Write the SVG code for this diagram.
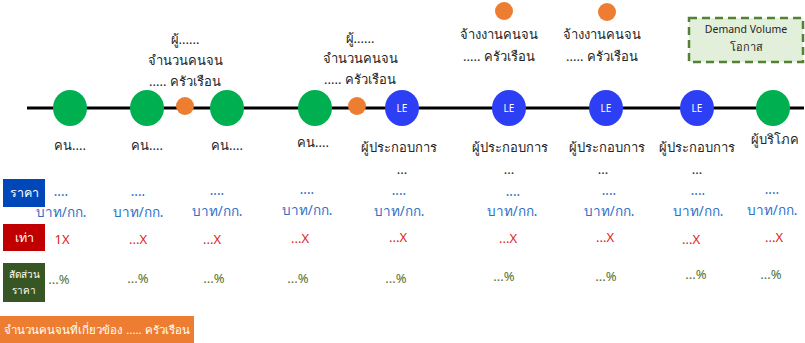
<svg xmlns="http://www.w3.org/2000/svg" width="805" height="343" viewBox="0 0 805 343">
<style>
text{font-family:"Noto Sans","DejaVu Sans",sans-serif;text-anchor:middle}
.t{font-size:13px;fill:#262626}
.g{fill:#00B050}
.b{fill:#2C3FF5}
.o{fill:#ED7D31}
.le{font-size:10px;fill:#fff}
.p{font-size:13.5px;fill:#2E6FC6}
.x{font-size:13px;fill:#E02424}
.pc{font-size:13px;fill:#4F7233}
.lb{fill:#fff;font-size:12.5px}
</style>
<rect width="805" height="343" fill="#fff"/>
<g id="connectors">
<line x1="27" y1="108" x2="804" y2="108" stroke="#000" stroke-width="3"/>
</g>
<g id="demand">
<rect x="689" y="18" width="114" height="44" fill="#E2EFDA" stroke="#548235" stroke-width="2.5" stroke-dasharray="8,5"/>
<text x="746" y="33" style="font-size:10.5px;fill:#262626">Demand Volume</text>
<text x="746" y="51" style="font-size:11px;fill:#262626">โอกาส</text>
</g>
<g id="n1"><ellipse cx="70" cy="108" rx="17" ry="18" class="g"/><text class="t" x="70" y="150">คน....</text></g>
<g id="n2"><ellipse cx="147" cy="108" rx="17" ry="18" class="g"/><text class="t" x="147" y="150">คน....</text></g>
<g id="o1"><circle cx="185" cy="106" r="9" class="o"/>
<text class="t" x="185" y="44">ผู้......</text><text class="t" x="185" y="65">จำนวนคนจน</text><text class="t" x="185" y="86">..... ครัวเรือน</text></g>
<g id="n3"><ellipse cx="227" cy="108" rx="17" ry="18" class="g"/><text class="t" x="227" y="150">คน....</text></g>
<g id="n4"><ellipse cx="315" cy="108" rx="17" ry="18" class="g"/><text class="t" x="313" y="147">คน....</text></g>
<g id="o2"><circle cx="357" cy="106" r="9" class="o"/>
<text class="t" x="360" y="43">ผู้......</text><text class="t" x="360" y="63">จำนวนคนจน</text><text class="t" x="360" y="84">..... ครัวเรือน</text></g>
<g id="le1"><ellipse cx="402" cy="108" rx="17" ry="18" class="b"/><text class="le" x="402" y="112">LE</text>
<text class="t" x="399" y="152">ผู้ประกอบการ</text><text class="t" x="402" y="174">...</text></g>
<g id="o3"><circle cx="504" cy="11" r="9" class="o"/>
<text class="t" x="499" y="39">จ้างงานคนจน</text><text class="t" x="499" y="61">..... ครัวเรือน</text></g>
<g id="le2"><ellipse cx="509" cy="108" rx="17" ry="18" class="b"/><text class="le" x="509" y="112">LE</text>
<text class="t" x="510" y="152">ผู้ประกอบการ</text><text class="t" x="509" y="174">...</text></g>
<g id="o4"><circle cx="607" cy="12" r="9" class="o"/>
<text class="t" x="602" y="39">จ้างงานคนจน</text><text class="t" x="602" y="61">..... ครัวเรือน</text></g>
<g id="le3"><ellipse cx="606" cy="108" rx="17" ry="18" class="b"/><text class="le" x="606" y="112">LE</text>
<text class="t" x="607" y="152">ผู้ประกอบการ</text><text class="t" x="603" y="174">...</text></g>
<g id="le4"><ellipse cx="697" cy="108" rx="17" ry="18" class="b"/><text class="le" x="697" y="112">LE</text>
<text class="t" x="697" y="152">ผู้ประกอบการ</text><text class="t" x="697" y="174">...</text></g>
<g id="n5"><ellipse cx="773" cy="108" rx="17" ry="18" class="g"/><text class="t" x="775" y="144">ผู้บริโภค</text></g>
<g id="row-price">
<rect x="3" y="179" width="42" height="28" fill="#0047BA"/><text class="lb" x="24" y="197">ราคา</text>
<text class="p" x="61" y="196">....</text><text class="p" x="61" y="217">บาท/กก.</text>
<text class="p" x="138" y="196">....</text><text class="p" x="138" y="217">บาท/กก.</text>
<text class="p" x="217" y="195">....</text><text class="p" x="217" y="216">บาท/กก.</text>
<text class="p" x="307" y="194">....</text><text class="p" x="307" y="215">บาท/กก.</text>
<text class="p" x="399" y="195">....</text><text class="p" x="399" y="216">บาท/กก.</text>
<text class="p" x="513" y="196">....</text><text class="p" x="512" y="216">บาท/กก.</text>
<text class="p" x="609" y="195">....</text><text class="p" x="609" y="216">บาท/กก.</text>
<text class="p" x="698" y="195">....</text><text class="p" x="698" y="216">บาท/กก.</text>
<text class="p" x="772" y="194">....</text><text class="p" x="772" y="215">บาท/กก.</text>
</g>
<g id="row-times">
<rect x="3" y="224" width="42" height="27" fill="#C00000"/><text class="lb" x="24" y="242">เท่า</text>
<text class="x" x="62" y="244">1X</text>
<text class="x" x="138" y="244">...X</text>
<text class="x" x="212" y="244">...X</text>
<text class="x" x="300" y="243">...X</text>
<text class="x" x="398" y="242">...X</text>
<text class="x" x="508" y="243">...X</text>
<text class="x" x="605" y="242">...X</text>
<text class="x" x="691" y="244">...X</text>
<text class="x" x="774" y="242">...X</text>
</g>
<g id="row-share">
<rect x="3" y="263" width="42" height="39" fill="#375623"/>
<text x="24" y="278" style="fill:#fff;font-size:10px">สัดส่วน</text><text x="24" y="294" style="fill:#fff;font-size:10px">ราคา</text>
<text class="pc" x="59" y="284">...%</text>
<text class="pc" x="138" y="283">...%</text>
<text class="pc" x="214" y="283">...%</text>
<text class="pc" x="298" y="283">...%</text>
<text class="pc" x="396" y="283">...%</text>
<text class="pc" x="504" y="281">...%</text>
<text class="pc" x="606" y="281">...%</text>
<text class="pc" x="696" y="279">...%</text>
<text class="pc" x="771" y="279">...%</text>
</g>
<g id="poor-count">
<rect x="0" y="316" width="194" height="27" fill="#ED7D31"/>
<text class="lb" x="97" y="334" style="font-size:11.5px">จำนวนคนจนที่เกี่ยวข้อง ..... ครัวเรือน</text>
</g>
</svg>
